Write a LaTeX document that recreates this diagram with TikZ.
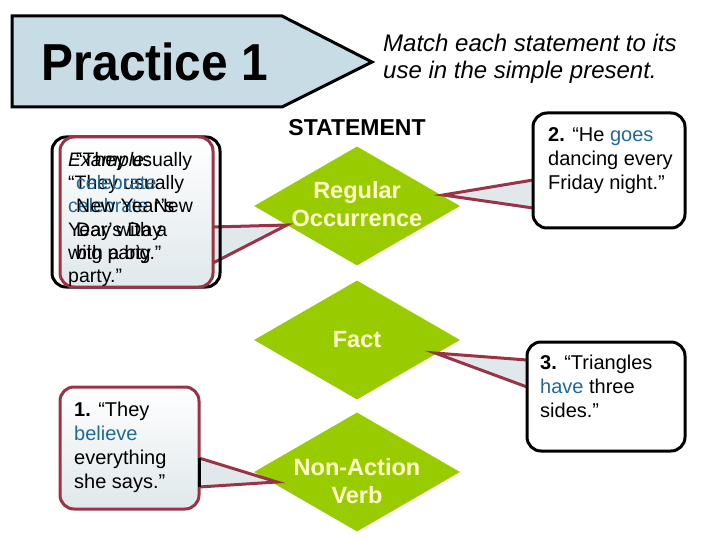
\documentclass[tikz,border=0pt]{standalone}
\usepackage{fontspec}
\setmainfont{Liberation Sans}
\newfontfamily\narrowsans[FakeStretch=0.92]{Liberation Sans}
\usetikzlibrary{shapes.geometric,positioning}
\definecolor{leafgreen}{HTML}{99CC00}
\definecolor{cream}{HTML}{FFFFCC}
\definecolor{wordblue}{HTML}{1F6A98}
\definecolor{wine}{HTML}{993348}
\definecolor{bannerblue}{HTML}{C7DCE5}
\definecolor{calloutgray}{HTML}{E0E8EB}
\begin{document}
\begin{tikzpicture}[x=1pt,y=-1pt,
  choice/.style={diamond,fill=leafgreen,minimum width=206pt,minimum height=119pt,inner sep=0pt},
  choicetext/.style={font=\bfseries\fontsize{23.5}{28}\selectfont,text=cream,align=center},
  bubble/.style={rectangle,rounded corners=14pt,line width=3pt,inner sep=0pt,outer sep=0pt},
  wedge/.style={fill=calloutgray,draw=wine,line width=3pt},
  saying/.style={font=\fontsize{20}{24}\selectfont,align=left,anchor=north west,inner sep=0pt}]
\useasboundingbox (0,0) rectangle (720,540);
% title banner
\draw[fill=bannerblue,line width=3pt] (12,16) -- (282,16) -- (372,62) -- (282,107) -- (12,107) -- cycle;
\node[font=\narrowsans\bfseries\fontsize{52}{52}\selectfont] (title) at (155,61.5) {Practice 1};
\node[font=\itshape\fontsize{24}{27}\selectfont,align=left,anchor=north west,inner sep=0pt] (task) at (383,34)
  {Match each statement to its\\use in the simple present.};
\node[font=\bfseries\fontsize{23}{23}\selectfont] (head) at (357,128) {STATEMENT};
% the three uses
\node[choice] (reg) at (357,206) {};
\node[choice] (fact) at (357,340) {};
\node[choice] (nonact) at (357,472) {};
\node[choicetext] at (357,204) {Regular\\Occurrence};
\node[choicetext] at (357,340) {Fact};
\node[choicetext] at (357,481) {Non-Action\\Verb};
% tips of the callouts
\coordinate (t0) at (287,225);
\coordinate (t1) at (277,482);
\coordinate (t2) at (443,195);
\coordinate (t3) at (435,353);
% example
\node[bubble,fill=white,minimum width=168pt,minimum height=150pt] (ex) at (136,212) {};
\node[bubble,minimum width=153pt,minimum height=150pt] (exr) at (136.5,212) {};
\filldraw[wedge] ([yshift=-15pt]exr.east) -- (t0) -- ([yshift=-51pt]exr.east);
\node[bubble,draw=black,minimum width=168pt,minimum height=150pt] at (ex) {};
\node[bubble,draw=wine,top color=white,bottom color=calloutgray,minimum width=153pt,minimum height=150pt] at (exr) {};
\node[saying,font=\fontsize{19.5}{23.3}\selectfont] (exA) at (68,152)
  {\textit{Example:}\\“They usually\\\textcolor{wordblue}{celebrate} New\\Year’s Day\\with a big\\party.”};
\node[saying,font=\fontsize{19.5}{23.3}\selectfont] (exB) at (76,152)
  {“They usually\\\textcolor{wordblue}{celebrate}\\New Year’s\\Day with a\\big party.”};
% statement 1
\node[bubble,minimum width=139pt,minimum height=122pt] (b1) at (129.5,448) {};
\filldraw[wedge] ([yshift=-10pt]b1.east) -- (t1) -- ([yshift=-39pt]b1.east);
\node[bubble,draw=wine,top color=white,bottom color=calloutgray,minimum width=139pt,minimum height=122pt] at (b1) {};
\draw[line width=3pt] ([yshift=-10pt]b1.east) -- ([yshift=-39pt]b1.east);
\node[saying] (s1) at (74,402)
  {\textbf{1.} “They\\\textcolor{wordblue}{believe}\\everything\\she says.”};
% statement 2
\node[bubble,minimum width=152pt,minimum height=115pt] (b2) at (609,170.5) {};
\filldraw[wedge] ([yshift=-9.5pt]b2.west) -- (t2) -- ([yshift=-37.5pt]b2.west);
\node[bubble,draw=black,fill=white,minimum width=152pt,minimum height=115pt] at (b2) {};
\node[saying] (s2) at (548,127)
  {\textbf{2.} “He \textcolor{wordblue}{goes}\\dancing every\\Friday night.”};
% statement 3
\node[bubble,minimum width=158pt,minimum height=109pt] (b3) at (606,396.5) {};
\filldraw[wedge] ([yshift=36.5pt]b3.west) -- (t3) -- ([yshift=9.5pt]b3.west);
\node[bubble,draw=black,fill=white,minimum width=158pt,minimum height=109pt] at (b3) {};
\node[saying] (s3) at (540,355)
  {\textbf{3.} “Triangles\\\textcolor{wordblue}{have} three\\sides.”};
\end{tikzpicture}
\end{document}
